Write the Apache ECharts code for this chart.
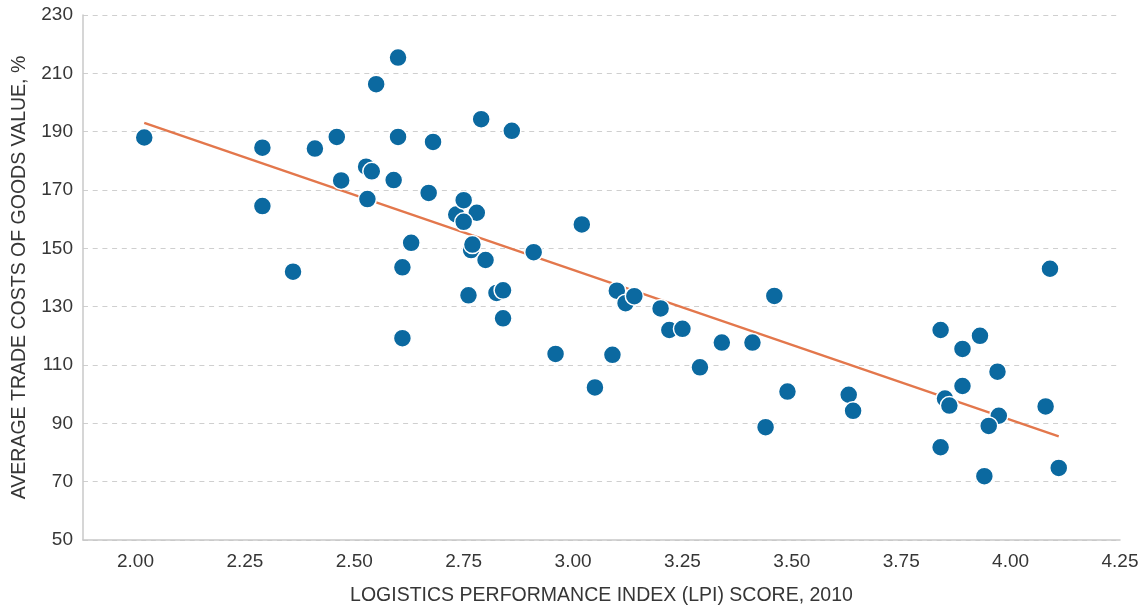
<!DOCTYPE html>
<html>
<head>
<meta charset="utf-8">
<script src="https://cdn.jsdelivr.net/npm/echarts@6/dist/echarts.min.js"></script>
<style>
html,body{margin:0;padding:0;background:#fff;}
#chart{width:1145px;height:608px;}
</style>
</head>
<body>
<div id="chart"></div>
<script>
// LPI score (x) and average trade costs % (y) per country
const lpi = [2.02, 2.29, 2.29, 2.36, 2.41, 2.46, 2.47, 2.527, 2.53, 2.54,
  2.55, 2.59, 2.60, 2.60, 2.61, 2.61, 2.63, 2.67, 2.68, 2.733,
  2.75, 2.78, 2.75, 2.761, 2.767, 2.77, 2.79, 2.80, 2.825, 2.84,
  2.84, 2.86, 2.91, 2.96, 3.02, 3.05, 3.09, 3.10, 3.12, 3.14,
  3.20, 3.22, 3.25, 3.29, 3.34, 3.41, 3.44, 3.46, 3.49, 3.63,
  3.64, 3.84, 3.84, 3.85, 3.86, 3.89, 3.89, 3.93, 3.94, 3.973,
  3.95, 3.97, 4.08, 4.09, 4.11];
const cost = [188.0, 184.5, 164.5, 142.0, 184.2, 188.2, 173.3, 178.0, 166.9, 176.4,
  206.3, 173.4, 215.4, 188.2, 143.5, 119.2, 151.9, 169.0, 186.5, 161.6,
  166.5, 162.2, 159.1, 133.9, 149.4, 151.3, 194.3, 146.0, 134.7, 135.6,
  126.0, 190.3, 148.7, 113.8, 158.2, 102.3, 113.5, 135.5, 131.2, 133.6,
  129.4, 122.0, 122.4, 109.2, 117.7, 117.7, 88.7, 133.7, 100.9, 99.8,
  94.3, 122.0, 81.8, 98.5, 96.1, 115.5, 102.8, 120.0, 71.9, 92.6,
  89.1, 107.7, 95.8, 143.0, 74.7];
// Linear trend line end points
const trendX = [2.02, 4.11];
const trendY = [193.0, 85.5];
// Tick labels
const xTicks = [2.00, 2.25, 2.50, 2.75, 3.00, 3.25, 3.50, 3.75, 4.00, 4.25];
const yTicks = [50, 70, 90, 110, 130, 150, 170, 190, 210, 230];

const xTitle = 'LOGISTICS PERFORMANCE INDEX (LPI) SCORE, 2010';
const yTitle = 'AVERAGE TRADE COSTS OF GOODS VALUE, %';

const points = lpi.map((x, i) => [x, cost[i]]);
const trend = trendX.map((x, i) => [x, trendY[i]]);

const textColor = '#363636';
const font = 'Liberation Sans, Arial, sans-serif';

const chart = echarts.init(document.getElementById('chart'), null, {renderer: 'canvas'});
chart.setOption({
  backgroundColor: '#ffffff',
  animation: false,
  grid: {left: 83, right: 25, top: 15, bottom: 68, containLabel: false, outerBoundsMode: 'none'},
  xAxis: {
    type: 'value',
    min: 1.88,
    max: 4.25,
    name: xTitle,
    nameLocation: 'middle',
    nameGap: 46,
    nameTextStyle: {color: textColor, fontSize: 19.5, fontFamily: font},
    axisLine: {show: true, lineStyle: {color: '#c8c8c8', width: 1.5}},
    axisTick: {show: false},
    splitLine: {show: false},
    axisLabel: {
      customValues: xTicks,
      color: textColor, fontSize: 19, fontFamily: font, margin: 12,
      formatter: v => v.toFixed(2)
    }
  },
  yAxis: {
    type: 'value',
    min: yTicks[0],
    max: yTicks[yTicks.length - 1],
    interval: 20,
    name: yTitle,
    nameLocation: 'middle',
    nameGap: 53,
    nameRotate: 90,
    nameTextStyle: {color: textColor, fontSize: 19.5, fontFamily: font},
    axisLine: {show: true, lineStyle: {color: '#c8c8c8', width: 1.5}},
    axisTick: {show: false},
    axisLabel: {color: textColor, fontSize: 19, fontFamily: font, margin: 10},
    splitLine: {show: true, lineStyle: {color: '#cfcfcf', width: 1, type: [5, 4.7]}}
  },
  series: [
    {
      type: 'line',
      data: trend,
      symbol: 'none',
      lineStyle: {color: '#e3774c', width: 2.3},
      z: 2,
      silent: true
    },
    {
      type: 'scatter',
      data: points,
      symbol: 'circle',
      symbolSize: 18,
      itemStyle: {color: '#0b69a0', borderColor: '#ffffff', borderWidth: 1.5, opacity: 1},
      z: 3
    }
  ]
});
</script>
</body>
</html>
